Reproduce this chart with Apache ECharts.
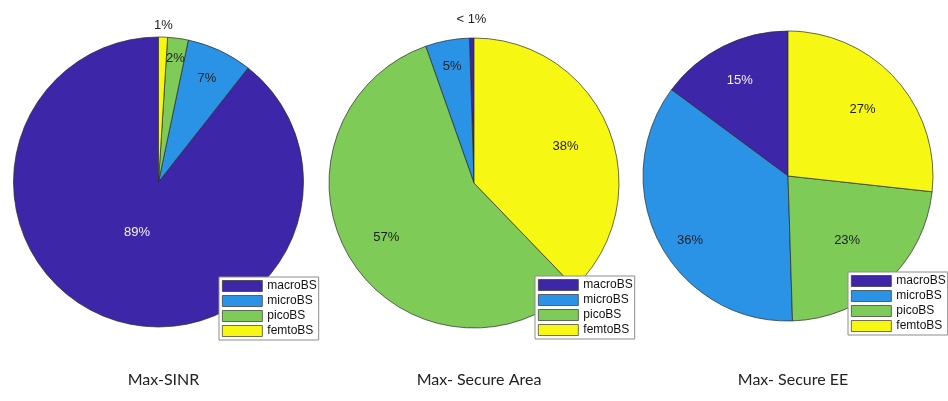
<!DOCTYPE html>
<html><head><meta charset="utf-8">
<script src="https://cdn.jsdelivr.net/npm/echarts@6/dist/echarts.min.js"></script>
<style>html,body{margin:0;padding:0;background:#fff}#c{width:948px;height:401px}</style>
</head><body><div id="c"></div>
<script>
// ---- data ----
const categories = ['macroBS', 'microBS', 'picoBS', 'femtoBS'];
const titles = ['Max-SINR', 'Max- Secure Area', 'Max- Secure EE'];
const sinrValues = [89.4, 7.3, 2.3, 1.0];
const areaValues = [0.5, 4.9, 56.8, 37.8];
const eeValues = [15, 36, 23, 27];
const sinrLabels = ['89%', '7%', '2%', '1%'];
const areaLabels = ['< 1%', '5%', '57%', '38%'];
const eeLabels = ['15%', '36%', '23%', '27%'];

// ---- styling / layout ----
const colors = ['#3e26a8', '#2b93e6', '#7fcb58', '#f7f714'];
const R = 145;
const centers = [[158.5, 182], [474, 183], [788, 176]];
const labelRadius = [[0.36, 0.77, 0.84, 1.06], [1.11, 0.8, 0.69, 0.66], [0.72, 0.79, 0.58, 0.67]];
const labelAngleShift = [[-4, 0, 0, 0], [0, 0, 0, 0], [0, 6, 0, 0]]; // degrees, CCW
const labelColors = [['#f2f2f2', '#222', '#222', '#222'], ['#222', '#222', '#222', '#222'], ['#f2f2f2', '#222', '#222', '#222']];
const legendPos = [[219, 277], [535, 276], [848, 272]];

const allValues = [sinrValues, areaValues, eeValues];
const allLabels = [sinrLabels, areaLabels, eeLabels];

function buildData(p) {
  const vals = allValues[p];
  const total = vals.reduce((a, b) => a + b, 0);
  let cum = 0;
  return vals.map((v, i) => {
    const mid = (cum + v / 2) / total * 2 * Math.PI; // CCW from top
    cum += v;
    const th = mid + labelAngleShift[p][i] * Math.PI / 180;
    const f = labelRadius[p][i];
    // inside label default sits at R/2 along mid angle; shift to target point
    const tx = -f * R * Math.sin(th), ty = -f * R * Math.cos(th);
    const dx0 = -0.5 * R * Math.sin(mid), dy0 = -0.5 * R * Math.cos(mid);
    return {
      name: categories[i],
      value: v,
      itemStyle: { color: colors[i] },
      label: {
        formatter: allLabels[p][i],
        color: labelColors[p][i],
        offset: [tx - dx0, ty - dy0]
      }
    };
  });
}

const series = [0, 1, 2].map(p => ({
  type: 'pie',
  center: centers[p],
  radius: R,
  startAngle: 90,
  clockwise: false,
  avoidLabelOverlap: false,
  animation: false,
  silent: true,
  itemStyle: { borderColor: '#2a2a2a', borderWidth: 0.7 },
  label: { show: true, position: 'inside', fontSize: 13, fontFamily: 'Liberation Sans, Arial, sans-serif' },
  labelLine: { show: false },
  emphasis: { disabled: true },
  data: buildData(p)
}));

const legends = [0, 1, 2].map(p => ({
  left: legendPos[p][0],
  top: legendPos[p][1],
  orient: 'vertical',
  icon: 'rect',
  itemWidth: 40,
  itemHeight: 11,
  itemGap: 3,
  itemTextGap: 3,
  padding: [3, 2, 3, 3],
  backgroundColor: '#fff',
  borderColor: '#8c8c8c',
  borderWidth: 1,
  selectedMode: false,
  data: categories,
  itemStyle: { borderColor: '#333', borderWidth: 0.7 },
  textStyle: { fontSize: 12, color: '#111', fontFamily: 'Liberation Sans, Arial, sans-serif' }
}));

const titleOpts = [0, 1, 2].map(p => ({
  text: titles[p],
  left: centers[p][0],
  top: 367,
  textAlign: 'center',
  textStyle: { fontSize: 16, fontWeight: 'normal', color: '#222', fontFamily: 'Lato, Open Sans, sans-serif' }
}));

const chart = echarts.init(document.getElementById('c'));
chart.setOption({
  backgroundColor: '#fff',
  animation: false,
  title: titleOpts,
  legend: legends,
  series: series
});
</script>
</body></html>
